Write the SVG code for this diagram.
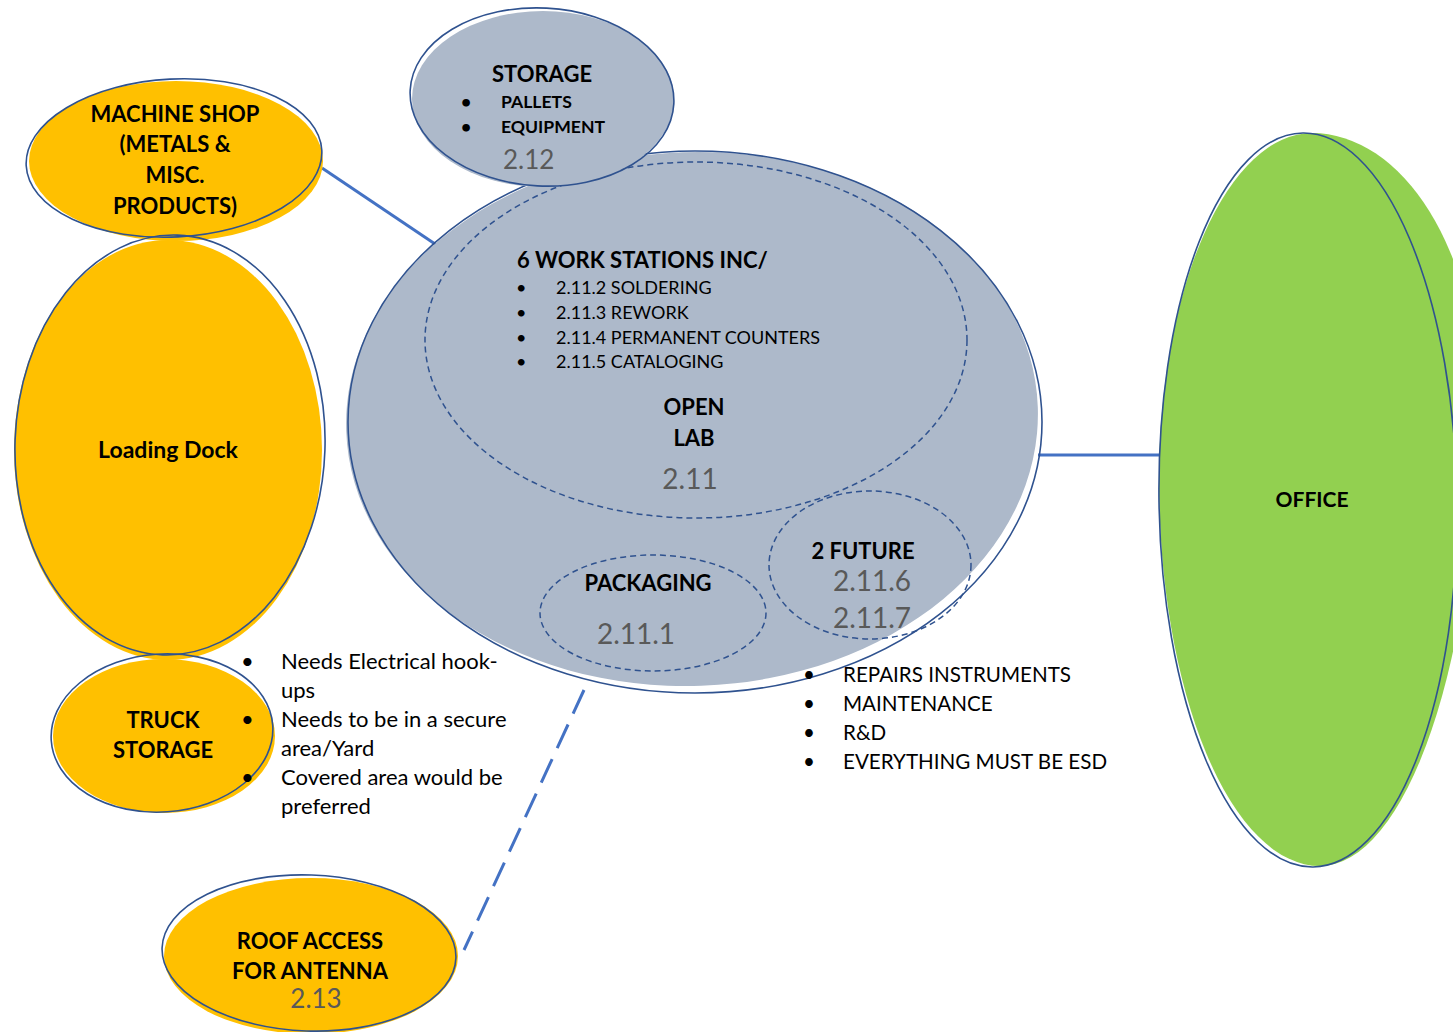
<svg xmlns="http://www.w3.org/2000/svg" width="1453" height="1032" viewBox="0 0 1453 1032">
<style>
.ol{fill:none;stroke:#2F528F;stroke-width:1.6}
.gray{fill:#ADB9CA}
.yel{fill:#FFC000}
.grn{fill:#92D050}
.dash{fill:none;stroke:#2F528F;stroke-width:1.5;stroke-dasharray:6 4}
.con{fill:none;stroke:#4472C4;stroke-width:3}
.b{font-family:Lato,"Open Sans",sans-serif;font-weight:bold;fill:#000}
.r{font-family:Lato,"Open Sans",sans-serif;fill:#000}
.n{font-family:Lato,"Open Sans",sans-serif;fill:#595959}
</style>
<rect width="1453" height="1032" fill="#fff"/>
<g id="connectors">
<line class="con" x1="322" y1="168" x2="444" y2="250"/>
<line class="con" x1="1038" y1="455" x2="1160" y2="455"/>
<line class="con" x1="584" y1="690" x2="464" y2="950" stroke-dasharray="26 12"/>
</g>
<g id="open-lab">
<ellipse class="gray" cx="692" cy="419" rx="346" ry="267" transform="rotate(-2 692 419)"/>
<ellipse class="ol" cx="695" cy="422" rx="347" ry="271"/>
<ellipse class="dash" cx="696" cy="340" rx="271" ry="178"/>
<text class="b" x="517" y="268" font-size="22">6 WORK STATIONS INC/</text>
<g class="r" font-size="18">
<text x="516" y="294">•</text><text x="556" y="294">2.11.2 SOLDERING</text>
<text x="516" y="319">•</text><text x="556" y="319">2.11.3 REWORK</text>
<text x="516" y="344">•</text><text x="556" y="344">2.11.4 PERMANENT COUNTERS</text>
<text x="516" y="368">•</text><text x="556" y="368">2.11.5 CATALOGING</text>
</g>
<text class="b" x="694" y="415" font-size="22" text-anchor="middle">OPEN</text>
<text class="b" x="694" y="446" font-size="22" text-anchor="middle">LAB</text>
<text class="n" x="690" y="489" font-size="28" text-anchor="middle">2.11</text>
</g>
<g id="packaging">
<ellipse class="dash" cx="653" cy="613" rx="113" ry="58"/>
<text class="b" x="648" y="591" font-size="22" text-anchor="middle">PACKAGING</text>
<text class="n" x="636" y="644" font-size="28" text-anchor="middle">2.11.1</text>
</g>
<g id="future">
<ellipse class="dash" cx="870" cy="565" rx="101" ry="74"/>
<text class="b" x="863" y="559" font-size="22" text-anchor="middle">2 FUTURE</text>
<text class="n" x="872" y="591" font-size="28" text-anchor="middle">2.11.6</text>
<text class="n" x="872" y="628" font-size="28" text-anchor="middle">2.11.7</text>
</g>
<g id="storage">
<ellipse class="gray" cx="543" cy="99" rx="131" ry="88"/>
<ellipse class="ol" cx="542" cy="97" rx="132" ry="89" transform="rotate(3 542 97)"/>
<text class="b" x="542" y="82" font-size="22" text-anchor="middle">STORAGE</text>
<g class="b" font-size="17.6">
<text x="461" y="108">•</text><text x="501" y="108">PALLETS</text>
<text x="461" y="133">•</text><text x="501" y="133">EQUIPMENT</text>
</g>
<text class="n" x="503" y="169" font-size="26">2.12</text>
</g>
<g id="machine-shop">
<ellipse class="yel" cx="176" cy="161" rx="147" ry="80"/>
<ellipse class="ol" cx="174" cy="158" rx="148" ry="79" transform="rotate(-3 174 158)"/>
<g class="b" font-size="22" text-anchor="middle">
<text x="175" y="122">MACHINE SHOP</text>
<text x="175" y="152">(METALS &amp;</text>
<text x="175" y="183">MISC.</text>
<text x="175" y="214">PRODUCTS)</text>
</g>
</g>
<g id="loading-dock">
<ellipse class="yel" cx="168" cy="450" rx="154" ry="210"/>
<ellipse class="ol" cx="170" cy="445" rx="155" ry="210" transform="rotate(2 170 445)"/>
<text class="b" x="168" y="458" font-size="23" text-anchor="middle">Loading Dock</text>
</g>
<g id="truck-storage">
<ellipse class="yel" cx="164" cy="736" rx="111" ry="77"/>
<ellipse class="ol" cx="162" cy="733" rx="111" ry="79" transform="rotate(-4 162 733)"/>
<text class="b" x="163" y="728" font-size="22" text-anchor="middle">TRUCK</text>
<text class="b" x="163" y="758" font-size="22" text-anchor="middle">STORAGE</text>
</g>
<g id="truck-notes" class="r" font-size="22">
<text x="241" y="669">•</text><text x="281" y="669">Needs Electrical hook-</text>
<text x="281" y="698">ups</text>
<text x="241" y="727">•</text><text x="281" y="727">Needs to be in a secure</text>
<text x="281" y="756">area/Yard</text>
<text x="241" y="785">•</text><text x="281" y="785">Covered area would be</text>
<text x="281" y="814">preferred</text>
</g>
<g id="roof-access">
<ellipse class="yel" cx="311" cy="956" rx="147" ry="78"/>
<ellipse class="ol" cx="309" cy="953" rx="147" ry="78" transform="rotate(2 309 953)"/>
<text class="b" x="310" y="949" font-size="22" text-anchor="middle">ROOF ACCESS</text>
<text class="b" x="310" y="979" font-size="22" text-anchor="middle">FOR ANTENNA</text>
<text class="n" x="316" y="1008" font-size="26" text-anchor="middle">2.13</text>
</g>
<g id="lab-notes" class="r" font-size="20.6">
<text x="803" y="682">•</text><text x="843" y="682">REPAIRS INSTRUMENTS</text>
<text x="803" y="711">•</text><text x="843" y="711">MAINTENANCE</text>
<text x="803" y="740">•</text><text x="843" y="740">R&amp;D</text>
<text x="803" y="769">•</text><text x="843" y="769">EVERYTHING MUST BE ESD</text>
</g>
<g id="office">
<path class="grn" d="M1312,133 A166,267 0 0 1 1478,400 A158,466 0 0 1 1320,866 A161,386 0 0 1 1159,480 A153,347 0 0 1 1312,133 Z"/>
<ellipse class="ol" cx="1308" cy="500" rx="149" ry="367" transform="rotate(-0.8 1308 500)"/>
<text class="b" x="1312" y="507" font-size="21" text-anchor="middle">OFFICE</text>
</g>
</svg>
